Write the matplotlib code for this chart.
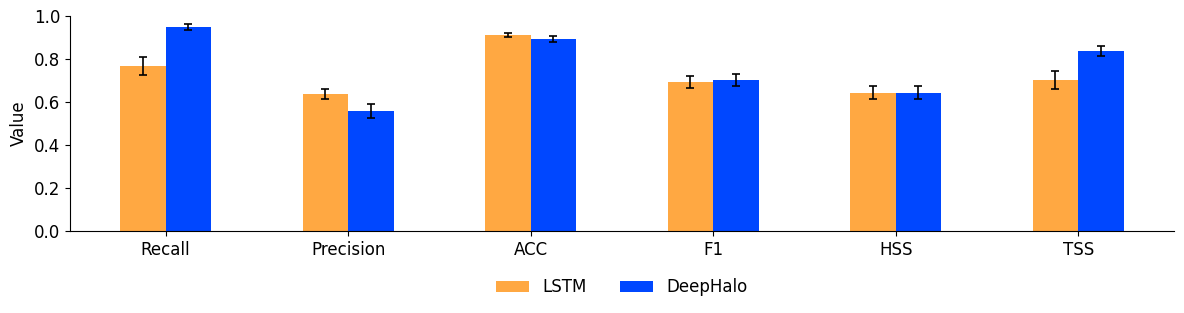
import matplotlib
matplotlib.use("Agg")
import matplotlib.pyplot as plt
import numpy as np

categories = ["Recall", "Precision", "ACC", "F1", "HSS", "TSS"]
lstm_vals = [0.767, 0.637, 0.912, 0.693, 0.642, 0.702]
lstm_err = [0.040, 0.025, 0.008, 0.029, 0.030, 0.040]
deephalo_vals = [0.949, 0.558, 0.893, 0.702, 0.642, 0.837]
deephalo_err = [0.012, 0.032, 0.012, 0.026, 0.030, 0.021]

fig, ax = plt.subplots(figsize=(11.84, 3.13), dpi=100)
x = np.arange(len(categories))
w = 0.25
ax.bar(x - w/2, lstm_vals, w, yerr=lstm_err, capsize=3, color="#FFA842", label="LSTM",
       error_kw=dict(elinewidth=1.2, capthick=1.2))
ax.bar(x + w/2, deephalo_vals, w, yerr=deephalo_err, capsize=3, color="#0047FF", label="DeepHalo",
       error_kw=dict(elinewidth=1.2, capthick=1.2))
ax.set_xticks(x)
ax.set_xticklabels(categories, fontsize=12)
ax.set_ylim(0, 1.0)
ax.tick_params(axis="y", labelsize=12)
ax.set_ylabel("Value", fontsize=12)
ax.spines["top"].set_visible(False)
ax.spines["right"].set_visible(False)
ax.legend(loc="upper center", bbox_to_anchor=(0.5, -0.15), ncol=2, frameon=False, fontsize=12)
fig.subplots_adjust(left=0.059, right=0.9915, top=0.949, bottom=0.262)
fig.savefig("out.png", dpi=100)
